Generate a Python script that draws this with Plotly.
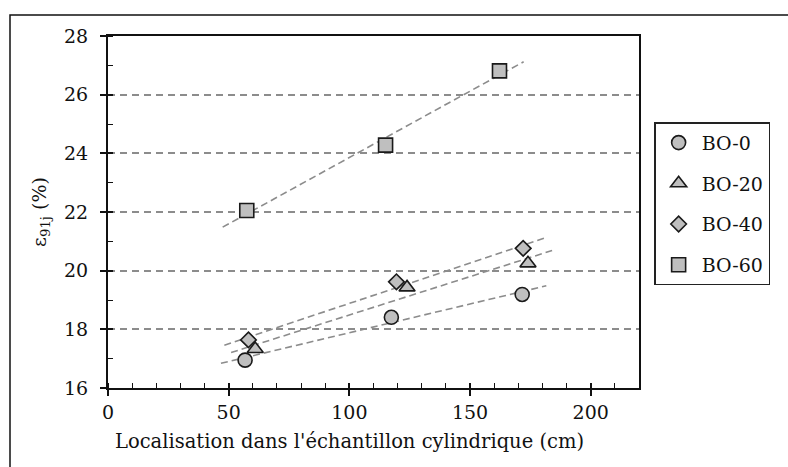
import numpy as np
import plotly.graph_objects as go

# Measured strain per sample, by position along the cylinder (cm)
series_names = ["BO-0", "BO-20", "BO-40", "BO-60"]
pos_bo0 = [56.8, 117.4, 171.6]
eps_bo0 = [16.95, 18.41, 19.19]
pos_bo20 = [61.0, 123.9, 174.0]
eps_bo20 = [17.33, 19.43, 20.25]
pos_bo40 = [58.2, 119.5, 172.0]
eps_bo40 = [17.64, 19.62, 20.76]
pos_bo60 = [57.5, 115.0, 162.2]
eps_bo60 = [22.05, 24.28, 26.81]

x_ticks = [0, 50, 100, 150, 200]
y_ticks = [16, 18, 20, 22, 24, 26, 28]
x_title = "Localisation dans l'échantillon cylindrique (cm)"
y_title = "ε<sub>91j</sub> (%)"

symbols = ["circle", "triangle-up", "diamond", "square"]
sizes = [14, 14, 12, 14]
xs = [pos_bo0, pos_bo20, pos_bo40, pos_bo60]
ys = [eps_bo0, eps_bo20, eps_bo40, eps_bo60]

FONT = "DejaVu Serif"
FS = 19
fill = "#bfbfbf"
trend_col = "#8c8c8c"
forecast = 10  # trend line extends this far past the data on both sides

fig = go.Figure()

# linear trend lines
for x, y in zip(xs, ys):
    slope, icpt = np.polyfit(x, y, 1)
    xl = np.array([min(x) - forecast, max(x) + forecast])
    fig.add_trace(go.Scatter(
        x=xl, y=slope * xl + icpt, mode="lines",
        line=dict(color=trend_col, width=1.6, dash="7px,4px"),
        showlegend=False, hoverinfo="skip"))

for name, x, y, sym, sz in zip(series_names, xs, ys, symbols, sizes):
    fig.add_trace(go.Scatter(
        x=x, y=y, mode="markers", name=name, legendgroup=name,
        marker=dict(symbol=sym, size=sz, color=fill,
                    line=dict(color="#1a1a1a", width=1.6))))

# overlay axes carrying the inner half of the crossing major ticks
fig.add_trace(go.Scatter(x=[0], y=[16], xaxis="x2", yaxis="y2",
                         mode="markers", marker=dict(opacity=0),
                         showlegend=False, hoverinfo="skip"))

axis_font = dict(family=FONT, size=FS, color="#111")

fig.update_layout(
    width=788, height=467,
    margin=dict(l=108, r=149, t=36, b=79),
    paper_bgcolor="white", plot_bgcolor="white",
    font=dict(family=FONT, color="#111"),
    showlegend=True,
    legend=dict(
        x=1.0285, xanchor="left", y=0.755, yanchor="top",
        bordercolor="#222", borderwidth=1.5, bgcolor="white",
        font=dict(family=FONT, size=FS, color="#111"),
        tracegroupgap=13, itemwidth=36,
    ),
    xaxis=dict(
        range=[0, 220], tickvals=x_ticks, showgrid=False, zeroline=False,
        showline=True, linecolor="#111", linewidth=2, mirror=True,
        ticks="outside", ticklen=6, tickwidth=1.5, tickcolor="#111",
        minor=dict(dtick=10, ticks="inside", ticklen=5, tickwidth=1.2,
                   tickcolor="#111", showgrid=False),
        tickfont=axis_font,
    ),
    yaxis=dict(
        range=[16, 28], tickvals=y_ticks, zeroline=False,
        showgrid=True, gridcolor="#8c8c8c", gridwidth=1.6, griddash="7px,5px",
        showline=True, linecolor="#111", linewidth=2, mirror=True,
        ticks="outside", ticklen=6, tickwidth=1.5, tickcolor="#111",
        minor=dict(dtick=1, ticks="inside", ticklen=5, tickwidth=1.2,
                   tickcolor="#111", showgrid=False),
        tickfont=axis_font, ticklabelstandoff=8,
        title=dict(text=y_title,
                   font=dict(family=FONT, size=FS, color="#111"), standoff=12),
    ),
    xaxis2=dict(range=[0, 220], overlaying="x", anchor="y2", side="bottom",
                tickvals=x_ticks, ticks="inside", ticklen=5, tickwidth=1.5,
                tickcolor="#111", showticklabels=False, showgrid=False,
                zeroline=False, showline=False),
    yaxis2=dict(range=[16, 28], overlaying="y", anchor="x2", side="left",
                tickvals=y_ticks, ticks="inside", ticklen=5, tickwidth=1.5,
                tickcolor="#111", showticklabels=False, showgrid=False,
                zeroline=False, showline=False),
)

# x-axis title, set slightly left of the plot centre
fig.add_annotation(text=x_title, xref="paper", yref="paper",
                   x=(349 - 108) / 531, y=(388 - 441) / 352,
                   xanchor="center", yanchor="middle", showarrow=False,
                   font=dict(family=FONT, size=19.5, color="#111"))

# outer frame around the chart
fig.add_shape(type="rect", xref="paper", yref="paper",
              x0=(10 - 108) / 531, x1=2.0, y0=-1.0, y1=(388 - 15) / 352,
              line=dict(color="#111", width=1.5), fillcolor="rgba(0,0,0,0)",
              layer="below")

fig.write_html("out.html")
